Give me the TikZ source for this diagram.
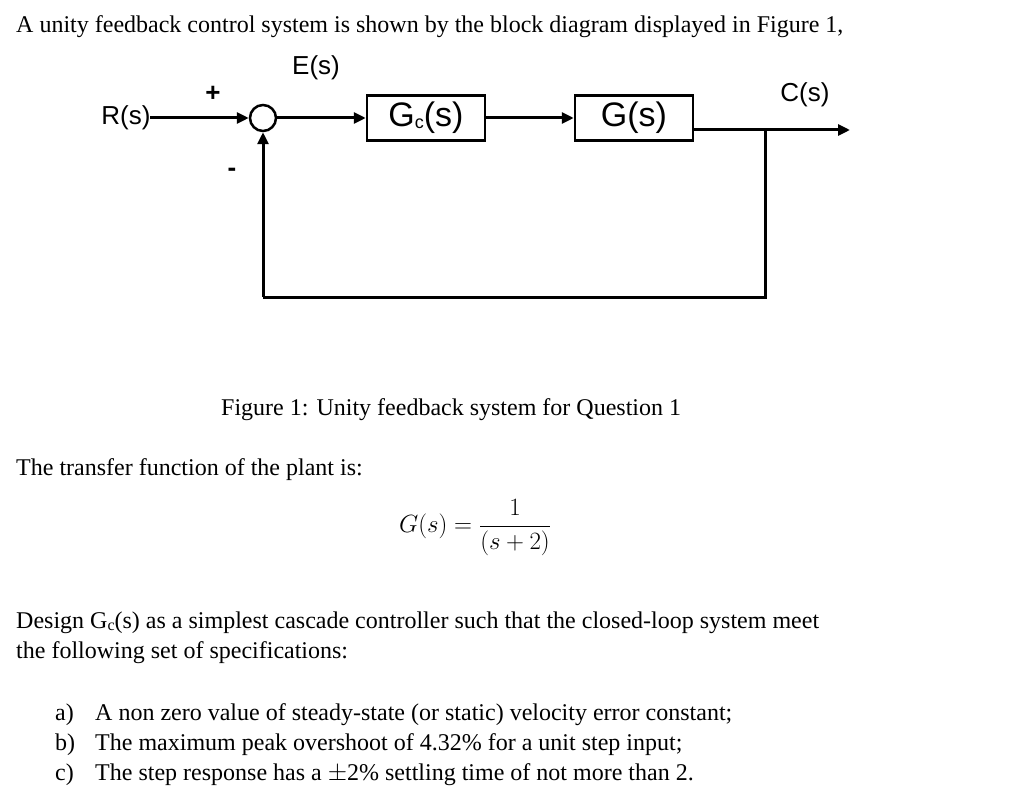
\documentclass[tikz,border=0pt]{standalone}
\usepackage{fontspec}
\setmainfont{Liberation Serif}
\newfontfamily\lsans{Liberation Sans}
\usetikzlibrary{arrows.meta}
\begin{document}
\begin{tikzpicture}[x=1pt,y=-1pt,
  wire/.style={line width=3pt},
  arr/.style={wire,-{Triangle[length=12pt,width=11pt]}},
  blk/.style={draw,line width=2.5pt,minimum width=118pt,minimum height=45pt,inner sep=0pt,font=\lsans\fontsize{34}{34}\selectfont},
  lab/.style={font=\lsans\fontsize{26}{26}\selectfont},
  txt/.style={anchor=base west,inner sep=0pt,font=\fontsize{24}{24}\selectfont}]
\useasboundingbox (0,0) rectangle (1024,791);
\node[txt] (t1) at (16,33) {A unity feedback control system is shown by the block diagram displayed in Figure 1,};
\node[lab] (r) at (126,118) {R(s)};
\coordinate (rin) at (150,118);
\node[circle,draw,line width=2.5pt,minimum size=26pt,inner sep=0pt] (sum) at (263,118) {};
\node[blk] (gc) at (426,118) {G\raisebox{-2pt}{\fontsize{18}{18}\selectfont c}(s)};
\node[blk] (g) at (634,118) {G(s)};
\coordinate (tap) at (765,130);
\coordinate (out) at (850,130);
\coordinate (b1) at (765,297);
\coordinate (b2) at (263,297);
\node[lab] (e) at (316,68) {E(s)};
\node[lab] (c) at (805,95) {C(s)};
\node[font=\lsans\bfseries\fontsize{26}{26}\selectfont] (plus) at (213,94) {+};
\node[font=\lsans\bfseries\fontsize{26}{26}\selectfont] (minus) at (232,172) {-};
\draw[arr] (rin) -- (sum);
\draw[arr] (sum) -- (gc);
\draw[arr] (gc) -- (g);
\draw[wire] (g.east |- tap) -- (tap);
\draw[arr] (tap) -- (out);
\draw[wire] (tap) -- (b1) -- (b2);
\draw[arr] (b2) -- (sum.south);
\node[txt] (cap) at (221,415) {Figure 1: Unity feedback system for Question 1};
\node[txt] (t2) at (16,475) {The transfer function of the plant is:};
\node[anchor=center,font=\fontsize{24}{24}\selectfont] (eq) at (475,528) {$G(s)=\displaystyle\frac{1}{(s+2)}$};
\node[txt] (t3) at (16,628) {Design G\raisebox{-2pt}{\fontsize{16}{16}\selectfont c}(s) as a simplest cascade controller such that the closed-loop system meet};
\node[txt] (t4) at (16,658) {the following set of specifications:};
\node[txt] (la) at (55,720) {a)};
\node[txt] (a) at (95,720) {A non zero value of steady-state (or static) velocity error constant;};
\node[txt] (lb) at (55,750) {b)};
\node[txt] (b) at (95,750) {The maximum peak overshoot of 4.32\% for a unit step input;};
\node[txt] (lc) at (55,780) {c)};
\node[txt] (cc) at (95,780) {The step response has a $\pm$2\% settling time of not more than 2.};
\end{tikzpicture}
\end{document}
